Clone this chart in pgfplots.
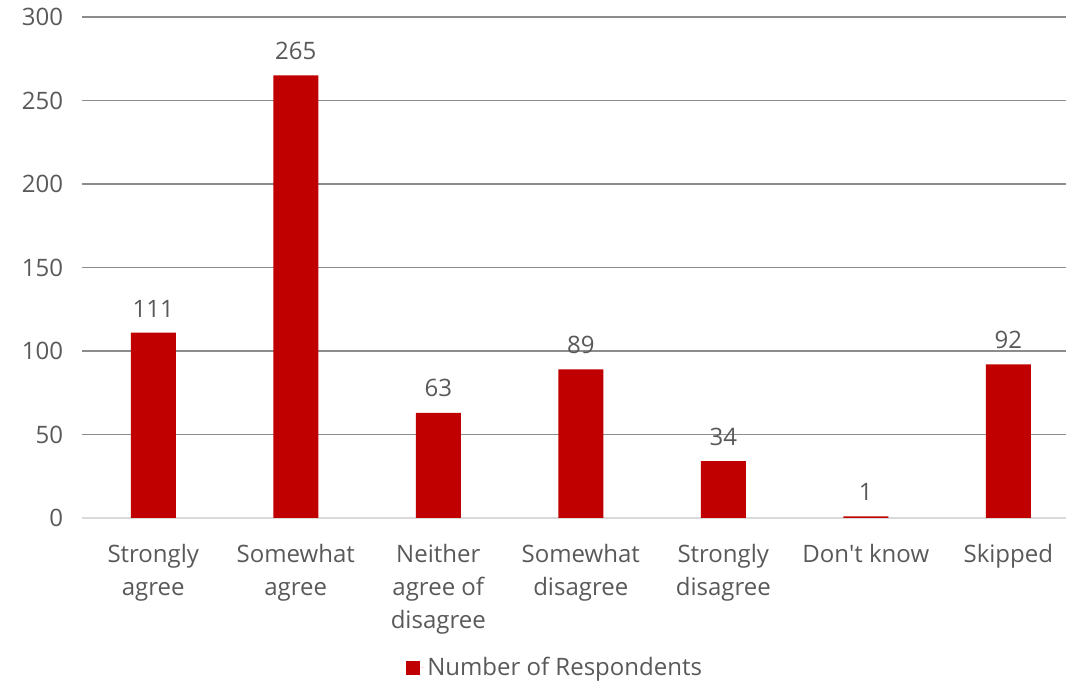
\documentclass[border=0pt]{standalone}
\usepackage{fontspec}
\setmainfont{Open Sans}
\usepackage{pgfplots}
\pgfplotsset{compat=1.18}
\definecolor{barred}{HTML}{C00000}
\definecolor{txtgray}{HTML}{595959}
\definecolor{gridgray}{HTML}{8C8C8C}
\definecolor{axisgray}{HTML}{D9D9D9}
\begin{document}
\fontsize{18pt}{24.75pt}\selectfont
\begin{tikzpicture}
\useasboundingbox (0,0) rectangle (801pt,513pt);
\begin{axis}[
  at={(61.5pt,124.5pt)}, anchor=south west,
  scale only axis,
  width=738pt, height=375.75pt,
  xmin=-0.5, xmax=6.405,
  ymin=0, ymax=300,
  ytick={0,50,...,300},
  xtick=data,
  xticklabels={{Strongly\\agree},{Somewhat\\agree},{Neither\\agree of\\disagree},{Somewhat\\disagree},{Strongly\\disagree},{Don\textquotesingle t know},{Skipped}},
  x tick label style={align=center, text=txtgray, yshift=-13.5pt, font=\fontsize{18pt}{24.75pt}\selectfont},
  y tick label style={text=txtgray, xshift=-8pt, font=\fontsize{18pt}{24.75pt}\selectfont},
  /pgf/number format/assume math mode=true,
  major tick length=0pt,
  ymajorgrids,
  grid style={gridgray, line width=0.9pt},
  axis x line*=bottom,
  axis y line*=left,
  y axis line style={draw=none},
  x axis line style={axisgray, line width=1.2pt, -},
  ybar, bar width=33.75pt,
  nodes near coords,
  every node near coord/.append style={text=txtgray, font=\fontsize{18pt}{24.75pt}\selectfont, yshift=5.5pt},
  legend style={at={(0.481,-0.299)}, anchor=center, draw=none, fill=none, text=txtgray, font=\fontsize{18pt}{24.75pt}\selectfont},
  legend image code/.code={\path (0pt,0pt) -- (14pt,0pt); \fill[barred] (0pt,-5.25pt) rectangle (10.5pt,5.25pt);},
  clip=false,
]
\addplot[fill=barred, draw=none] coordinates {(0,111) (1,265) (2,63) (3,89) (4,34) (5,1) (6,92)};
\addlegendentry{Number of Respondents}
\end{axis}
\end{tikzpicture}
\end{document}
